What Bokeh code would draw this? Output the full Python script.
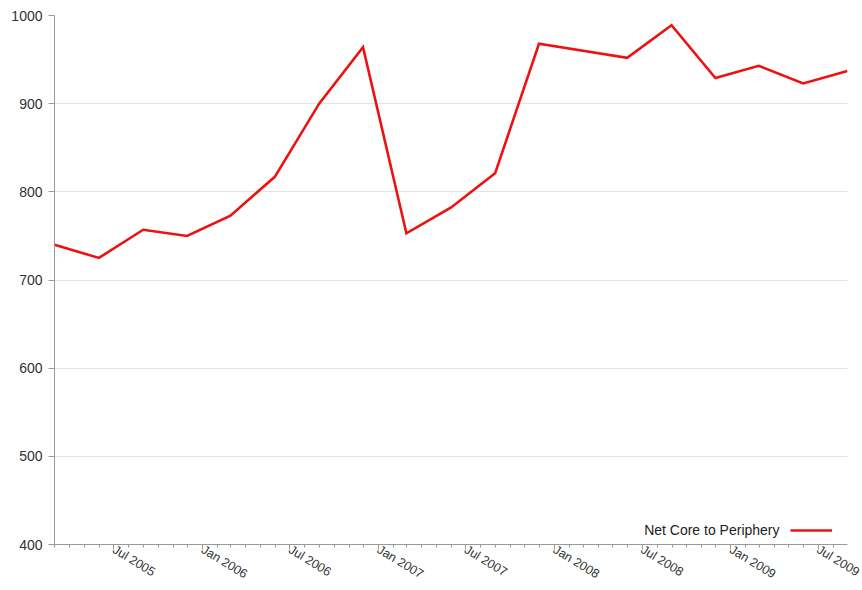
import pandas as pd
from bokeh.plotting import figure
from bokeh.models import (Range1d, FixedTicker, DatetimeTickFormatter, Legend, LegendItem,
                          Label, DatetimeAxis)
from bokeh.embed import file_html
from bokeh.resources import INLINE

# ---- data ----
dates = ["2005-02-28", "2005-05-31", "2005-08-31", "2005-11-30",
         "2006-02-28", "2006-05-31", "2006-08-31", "2006-11-30",
         "2007-02-28", "2007-05-31", "2007-08-31", "2007-11-30",
         "2008-05-31", "2008-08-31", "2008-11-30",
         "2009-02-28", "2009-05-31", "2009-08-31"]
values = [740, 725, 757, 750,
          773, 817, 900, 964,
          753, 782, 821, 968,
          952, 989, 929,
          943, 923, 937]
series_name = "Net Core to Periphery"
y_ticks = [400, 500, 600, 700, 800, 900, 1000]

x = pd.to_datetime(dates)

x_start = pd.Timestamp("2005-02-28")
x_end = pd.Timestamp("2009-08-31")

p = figure(width=862, height=590, x_axis_type=None, output_backend="svg",
           toolbar_location=None,
           x_range=Range1d(x_start, x_end), y_range=Range1d(400, 1000),
           min_border_left=54, min_border_right=15, min_border_top=15, min_border_bottom=0)
p.outline_line_color = None
p.background_fill_color = "white"

r = p.line(x, values, line_color="#ee1111", line_width=2.6, line_join="miter")

# x axis with half-year major ticks and monthly minor ticks
months = pd.date_range("2005-03-01", "2009-09-01", freq="MS")
major = [m for m in months if m.month in (1, 7)]
to_ms = lambda ts: ts.value / 1e6
xaxis = DatetimeAxis(ticker=FixedTicker(ticks=[to_ms(m) for m in major],
                                        minor_ticks=[to_ms(m) for m in months]),
                     formatter=DatetimeTickFormatter(months="%b %Y", days="%b %Y",
                                                     years="%b %Y"))
xaxis.major_label_orientation = -0.55
xaxis.major_label_text_font = "Liberation Sans"
xaxis.major_label_text_font_size = "12.5px"
xaxis.major_label_text_color = "#333333"
xaxis.axis_line_color = "#999999"
xaxis.major_tick_line_color = "#999999"
xaxis.minor_tick_line_color = "#999999"
xaxis.major_tick_out = 5
xaxis.major_tick_in = 0
xaxis.minor_tick_out = 3
xaxis.minor_tick_in = 0
xaxis.major_label_standoff = -1
p.add_layout(xaxis, "below")

p.yaxis.ticker = FixedTicker(ticks=y_ticks)
p.yaxis.major_label_text_font = "Liberation Sans"
p.yaxis.major_label_text_font_size = "14px"
p.yaxis.major_label_text_color = "#333333"
p.yaxis.axis_line_color = "#999999"
p.yaxis.major_tick_line_color = "#999999"
p.yaxis.major_tick_out = 6
p.yaxis.major_tick_in = 0
p.yaxis.minor_tick_line_color = None
p.yaxis.major_label_standoff = 6

p.ygrid.grid_line_color = "#e3e3e3"
p.ygrid.ticker = FixedTicker(ticks=y_ticks)
p.xgrid.grid_line_color = None

# legend: text on the left, line sample on the right
lbl = Label(x=pd.Timestamp("2009-04-12"), y=416, text=series_name,
            text_align="right", text_baseline="middle",
            text_font="Liberation Sans", text_font_size="14px", text_color="#222222")
p.add_layout(lbl)

legend = Legend(items=[LegendItem(label=" ", renderers=[r])], location=(736, 4),
                background_fill_alpha=0, border_line_alpha=0, glyph_width=42,
                glyph_height=20, padding=0, margin=0, label_width=0, label_standoff=0,
                label_text_font_size="13px")
p.add_layout(legend)

open("out.html", "w").write(file_html(p, INLINE))
